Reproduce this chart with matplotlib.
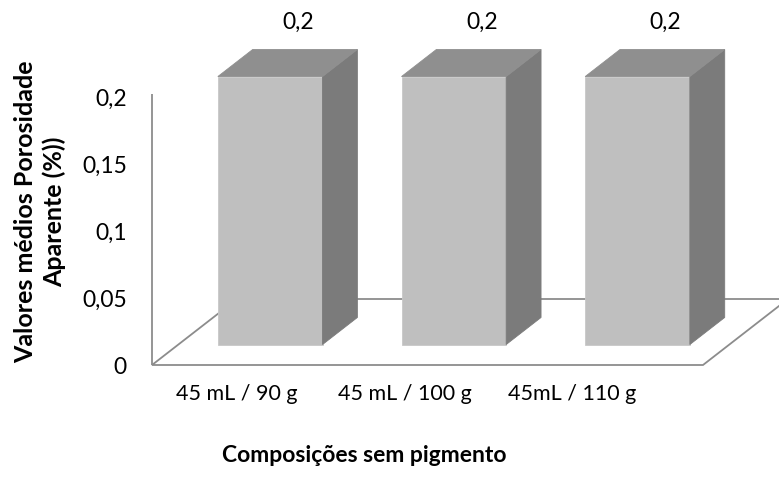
import matplotlib
matplotlib.use("Agg")
import matplotlib.pyplot as plt
from matplotlib.patches import Polygon
import numpy as np

# Data
categories = ["45 mL / 90 g", "45 mL / 100 g", "45mL / 110 g"]
values = [0.2, 0.2, 0.2]
value_labels = ["0,2", "0,2", "0,2"]
y_ticks = [0, 0.05, 0.1, 0.15, 0.2]
y_tick_labels = ["0", "0,05", "0,1", "0,15", "0,2"]
x_title = "Composições sem pigmento"
y_title = "Valores médios Porosidade\nAparente (%))"

plt.rcParams["font.family"] = ["Lato", "DejaVu Sans"]
FS = 16.5

W, H, DPI = 779, 480, 100
fig = plt.figure(figsize=(W / DPI, H / DPI), dpi=DPI)

# front plane of the 3-D floor, in pixels
left_px, right_px = 152, 703
zero_px, top_px = 365, 97
ax = fig.add_axes([left_px / W, (H - zero_px) / H,
                   (right_px - left_px) / W, (zero_px - top_px) / H])
ax.set_xlim(-0.5, len(categories) - 0.5)
ax.set_ylim(0, 0.2)
for s in ax.spines.values():
    s.set_visible(False)

# oblique depth vector of the floor (data units)
px_x = (len(categories)) / (right_px - left_px)
px_y = 0.2 / (zero_px - top_px)
depth_dx = 85 * px_x
depth_dy = 66 * px_y

# bars sit inside the floor depth
front_frac, bar_frac = 0.31, 0.41
bar_w = 0.57

edge = "#8c8c8c"
floor = Polygon([(-0.5, 0), (2.5, 0), (2.5 + depth_dx, depth_dy),
                 (-0.5 + depth_dx, depth_dy)], closed=True,
                facecolor="white", edgecolor=edge, lw=1.3,
                clip_on=False, zorder=1)
ax.add_patch(floor)
ax.plot([-0.5, -0.5], [0, 0.202], color=edge, lw=1.3, clip_on=False, zorder=1,
        solid_capstyle="butt")

front_col, side_col, top_col = "#bfbfbf", "#7b7b7b", "#8f8f8f"
bdx, bdy = bar_frac * depth_dx, bar_frac * depth_dy
for i, v in enumerate(values):
    x0 = i - bar_w / 2 + front_frac * depth_dx
    x1 = x0 + bar_w
    y0 = front_frac * depth_dy
    y1 = y0 + v
    front = Polygon([(x0, y0), (x1, y0), (x1, y1), (x0, y1)],
                    facecolor=front_col, edgecolor="#c8c8c8", lw=0.6,
                    clip_on=False, zorder=3)
    side = Polygon([(x1, y0), (x1 + bdx, y0 + bdy), (x1 + bdx, y1 + bdy), (x1, y1)],
                   facecolor=side_col, edgecolor=side_col, lw=0.6,
                   clip_on=False, zorder=3)
    top = Polygon([(x0, y1), (x1, y1), (x1 + bdx, y1 + bdy), (x0 + bdx, y1 + bdy)],
                  facecolor=top_col, edgecolor=top_col, lw=0.6,
                  clip_on=False, zorder=3)
    for p in (front, side, top):
        ax.add_patch(p)
    ax.text((x0 + x1) / 2 + bdx * 0.8, y1 + bdy + 0.020, value_labels[i],
            ha="center", va="center", fontsize=FS, color="black",
            clip_on=False, zorder=4)

ax.set_yticks(y_ticks)
ax.set_yticklabels(y_tick_labels, fontsize=FS)
ax.tick_params(axis="y", length=0, pad=18)

# category labels along the front edge of the floor
label_pos = np.arange(len(categories)) * 0.915 - 0.04
ax.set_xticks(label_pos)
ax.set_xticklabels(categories, fontsize=15.5)
ax.tick_params(axis="x", length=0, pad=14)

fig.text(364 / W, 1 - 455 / H, x_title, ha="center", va="center",
         fontsize=FS, fontweight="bold")
fig.text(40 / W, 1 - 212 / H, y_title, ha="center", va="center",
         rotation=90, fontsize=18, fontweight="bold", multialignment="center",
         linespacing=1.3)

fig.savefig("out.png", dpi=DPI)
